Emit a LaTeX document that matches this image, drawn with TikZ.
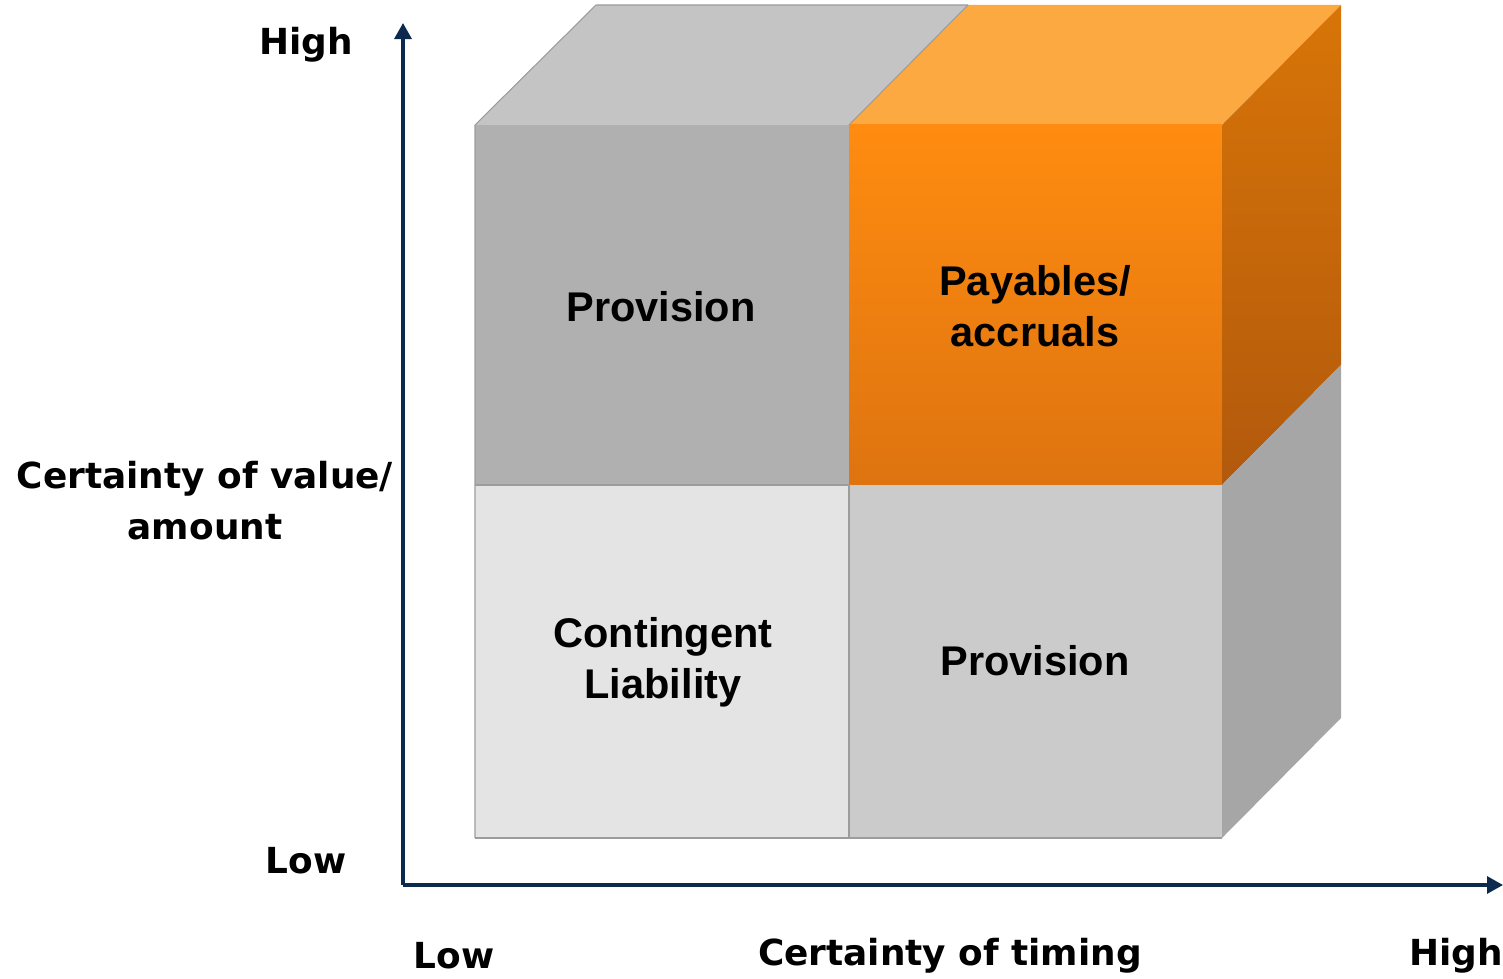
\documentclass[tikz,border=0pt]{standalone}
\usepackage{fontspec}
\setmainfont{Liberation Sans}
\newfontfamily\axisfont{DejaVu Sans}
\usetikzlibrary{arrows.meta}

% face colours of the cube
\definecolor{provgrey}{HTML}{B0B0B0}
\definecolor{topgrey}{HTML}{C4C4C4}
\definecolor{contgrey}{HTML}{E4E4E4}
\definecolor{lowgrey}{HTML}{CBCBCB}
\definecolor{sidegrey}{HTML}{A6A6A6}
\definecolor{edgegrey}{HTML}{9C9C9C}
\definecolor{paytop}{HTML}{FDA942}
\definecolor{payhigh}{HTML}{FF8C10}
\definecolor{paylow}{HTML}{DE7410}
\definecolor{payside}{HTML}{D87508}
\definecolor{paydark}{HTML}{B2590C}
\definecolor{axisblue}{HTML}{0B2A4E}

\newcommand\face[2]{%
\fill[#1] #2 -- cycle;
}

\tikzset{
  celltext/.style={font=\fontsize{11.8}{14.5}\selectfont\bfseries, align=center},
  axistext/.style={font=\axisfont\fontsize{10.2}{14.5}\selectfont\bfseries, align=center},
  axisline/.style={draw=axisblue, line width=0.9pt, -{Triangle[length=0.16cm,width=0.17cm]}},
  edge/.style={draw=edgegrey, line width=0.3pt}
}

\begin{document}
\begin{tikzpicture}[x=0.01cm,y=-0.01cm]
	%% some definitions
	\useasboundingbox (0,0) rectangle (1503,979);

	% top faces
	\face{topgrey}{(475,125) -- (849,125) -- (968,5) -- (596,5)}
	\face{paytop}{(849,125) -- (1222,125) -- (1341,5) -- (968,5)}

	% front faces
	\face{provgrey}{(475,125) -- (849,125) -- (849,485) -- (475,485)}
	\shade[top color=payhigh, bottom color=paylow] (849,125) rectangle (1222,485);
	\face{contgrey}{(475,485) -- (849,485) -- (849,838) -- (475,838)}
	\face{lowgrey}{(849,485) -- (1222,485) -- (1222,838) -- (849,838)}

	% side faces
	\shade[top color=payside, bottom color=paydark] (1222,125) -- (1341,5) -- (1341,365) -- (1222,485) -- cycle;
	\face{sidegrey}{(1222,485) -- (1341,365) -- (1341,718) -- (1222,838)}

	% thin edges on the grey faces
	\draw[edge] (475,838) -- (475,125) -- (596,5) -- (968,5);
	\draw[edge] (849,125) -- (968,5);
	\draw[edge] (475,485) -- (849,485) -- (849,838);
	\draw[edge] (475,838) -- (1222,838);

	% cell labels
	\node[celltext] (provtop) at (661,307) {Provision};
	\node[celltext] (payables) at (1035,306) {Payables/\\accruals};
	\node[celltext] (contingent) at (663,662) {Contingent\\Liability};
	\node[celltext] (provlow) at (1035,661) {Provision};

	% axes
	\coordinate (origin) at (403,885);
	\coordinate (ytip) at (403,23);
	\coordinate (xtip) at (1503,885);
	\draw[axisline] (origin) -- (ytip);
	\draw[axisline] (origin) -- (xtip);

	\node[axistext] (yhigh) at (306,45) {High};
	\node[axistext] (ylow) at (306,861) {Low};
	\node[axistext] (ytitle) at (205,501) {Certainty of value/\\amount};
	\node[axistext] (xlow) at (454,956) {Low};
	\node[axistext] (xtitle) at (950,956) {Certainty of timing};
	\node[axistext] (xhigh) at (1456,956) {High};
\end{tikzpicture}
\end{document}
